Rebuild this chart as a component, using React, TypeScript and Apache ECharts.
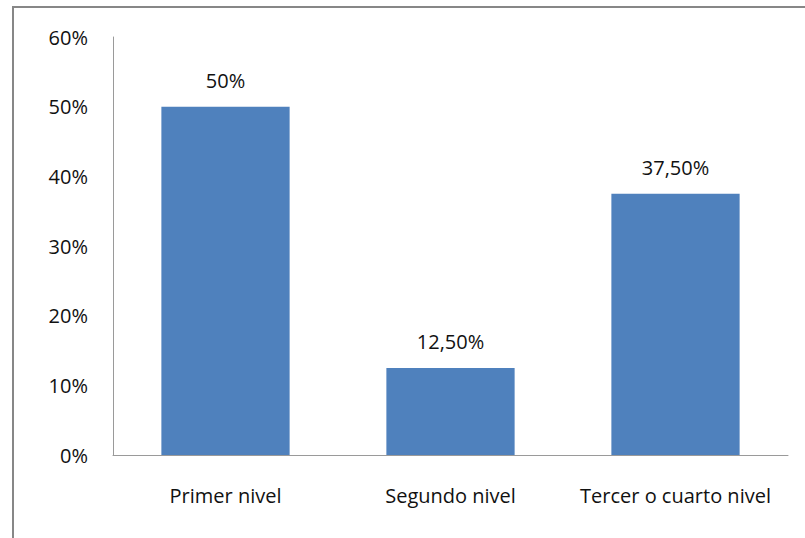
import React, { useEffect, useRef } from "react";
import * as echarts from "echarts";

const categories = ["Primer nivel", "Segundo nivel", "Tercer o cuarto nivel"];
const values = [50, 12.5, 37.5];
const valueLabels = ["50%", "12,50%", "37,50%"];

export default function App() {
  const ref = useRef<HTMLDivElement>(null);
  useEffect(() => {
    const chart = echarts.init(ref.current!, undefined, { renderer: "svg" });
    const font = "'Open Sans', sans-serif";
    chart.setOption({
      animation: false,
      backgroundColor: "#ffffff",
      graphic: [
        {
          type: "rect",
          shape: { x: 13, y: 7, width: 820, height: 600 },
          style: { fill: "none", stroke: "#878787", lineWidth: 2 },
          silent: true,
        },
      ],
      grid: { left: 113, right: 17, top: 37, bottom: 83 },
      xAxis: {
        type: "category",
        data: categories,
        axisLine: { show: true, lineStyle: { color: "#9a9a9a", width: 1 } },
        axisTick: { show: false },
        axisLabel: {
          color: "#111111",
          fontSize: 20,
          fontFamily: font,
          margin: 30,
          interval: 0,
          hideOverlap: false,
        },
      },
      yAxis: {
        type: "value",
        min: 0,
        max: 60,
        interval: 10,
        splitLine: { show: false },
        axisLine: { show: true, lineStyle: { color: "#9a9a9a", width: 1 } },
        axisTick: { show: false },
        axisLabel: {
          color: "#111111",
          fontSize: 20,
          fontFamily: font,
          margin: 25,
          formatter: (v: number) => v + "%",
        },
      },
      series: [
        {
          type: "bar",
          data: values,
          barWidth: "57%",
          itemStyle: { color: "#4F81BD" },
          label: {
            show: true,
            position: "top",
            distance: 16,
            color: "#111111",
            fontSize: 20,
            fontFamily: font,
            formatter: (p: any) => valueLabels[p.dataIndex],
          },
        },
      ],
    });
    return () => chart.dispose();
  }, []);
  return (
    <div
      ref={ref}
      style={{ position: "fixed", left: 0, top: 0, width: 805, height: 538 }}
    />
  );
}
